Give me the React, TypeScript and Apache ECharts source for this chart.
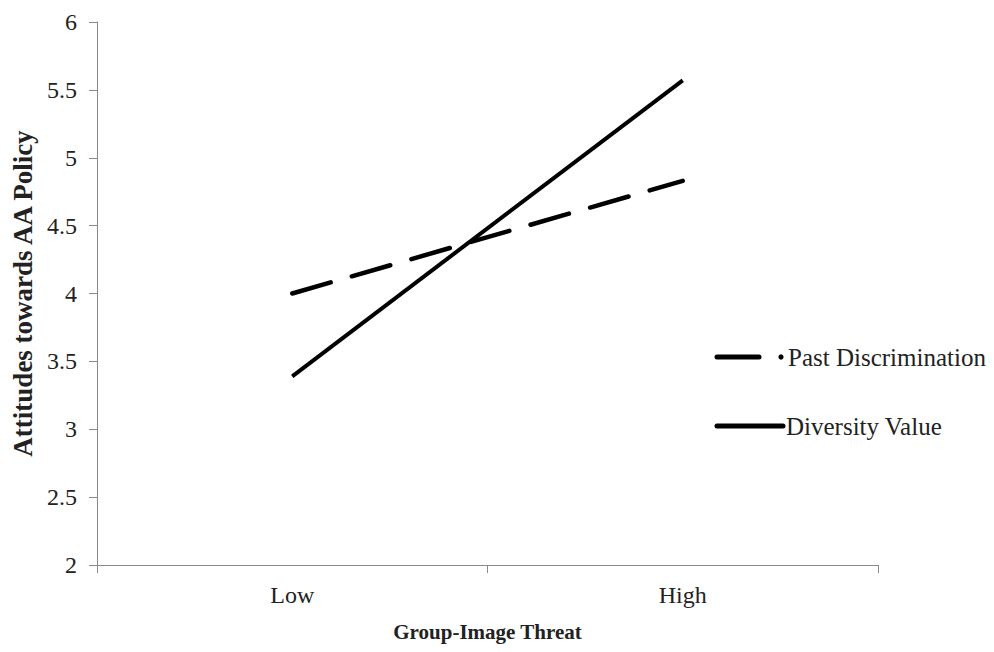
import React, { useEffect, useRef } from "react";
import * as echarts from "echarts";

const categories = ["Low", "High"];
const pastDiscrimination = [4.0, 4.83];
const diversityValue = [3.39, 5.57];
const seriesNames = ["Past Discrimination", "Diversity Value"];
const yMin = 2;
const yMax = 6;
const yInterval = 0.5;

export default function App() {
  const ref = useRef<HTMLDivElement>(null);
  useEffect(() => {
    document.body.style.margin = "0";
    const chart = echarts.init(ref.current!, null, { renderer: "svg" });
    const font = "'Liberation Serif', 'Times New Roman', serif";
    const dash = [40, 22];
    chart.setOption({
      animation: false,
      backgroundColor: "#fff",
      textStyle: { fontFamily: font },
      grid: { left: 97, right: 116, top: 22, bottom: 87, containLabel: false },
      graphic: [
        {
          type: "line",
          shape: { x1: 717, y1: 357, x2: 759, y2: 357 },
          style: { stroke: "#000", lineWidth: 5, lineCap: "round" },
        },
        {
          type: "circle",
          shape: { cx: 781, cy: 357, r: 2.6 },
          style: { fill: "#000" },
        },
        {
          type: "text",
          x: 788,
          y: 357,
          style: {
            text: seriesNames[0],
            fontFamily: font,
            fontSize: 25,
            fill: "#222",
            verticalAlign: "middle",
            align: "left",
          },
        },
        {
          type: "line",
          shape: { x1: 717, y1: 426, x2: 783, y2: 426 },
          style: { stroke: "#000", lineWidth: 5, lineCap: "round" },
        },
        {
          type: "text",
          x: 786,
          y: 426,
          style: {
            text: seriesNames[1],
            fontFamily: font,
            fontSize: 25,
            fill: "#222",
            verticalAlign: "middle",
            align: "left",
          },
        },
      ],
      xAxis: {
        type: "category",
        data: categories,
        boundaryGap: true,
        name: "Group-Image Threat",
        nameLocation: "middle",
        nameGap: 56,
        nameTextStyle: { fontFamily: font, fontSize: 21, fontWeight: "bold", color: "#222" },
        axisLine: { lineStyle: { color: "#8a8a8a", width: 1 } },
        axisTick: { show: true, length: 8, alignWithLabel: false, lineStyle: { color: "#8a8a8a" } },
        axisLabel: { fontFamily: font, fontSize: 24, color: "#222", margin: 18 },
        splitLine: { show: false },
      },
      yAxis: {
        type: "value",
        min: yMin,
        max: yMax,
        interval: yInterval,
        name: "Attitudes towards AA Policy",
        nameLocation: "middle",
        nameGap: 60,
        nameRotate: 90,
        nameTextStyle: { fontFamily: font, fontSize: 27, fontWeight: "bold", color: "#222" },
        axisLine: { show: true, lineStyle: { color: "#8a8a8a", width: 1 } },
        axisTick: { show: true, length: 8, inside: false, lineStyle: { color: "#8a8a8a" } },
        axisLabel: { fontFamily: font, fontSize: 24, color: "#222", margin: 20 },
        splitLine: { show: false },
      },
      series: [
        {
          name: seriesNames[0],
          type: "line",
          data: pastDiscrimination,
          symbol: "none",
          lineStyle: { color: "#000", width: 4.5, type: dash, cap: "round" },
          itemStyle: { color: "#000" },
        },
        {
          name: seriesNames[1],
          type: "line",
          data: diversityValue,
          symbol: "none",
          lineStyle: { color: "#000", width: 4, type: "solid" },
          itemStyle: { color: "#000" },
        },
      ],
    });
    return () => chart.dispose();
  }, []);
  return <div ref={ref} style={{ width: 994, height: 652 }} />;
}
